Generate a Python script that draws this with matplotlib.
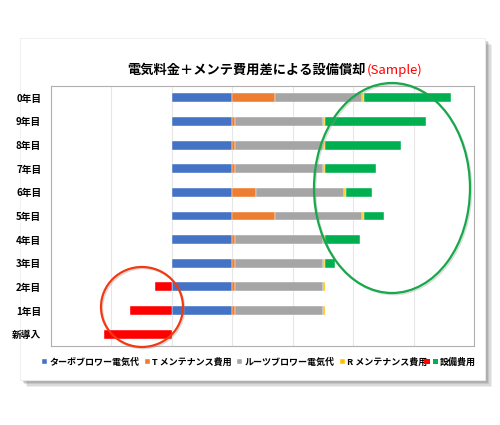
import matplotlib
matplotlib.use("Agg")
import matplotlib.pyplot as plt
from matplotlib.patches import Rectangle, Ellipse
from matplotlib.legend_handler import HandlerBase

plt.rcParams["font.family"] = ["Noto Sans CJK JP", "DejaVu Sans"]

# ─── データ (上から順) ─────────────────────────────────────────────────────────
categories = ["0年目", "9年目", "8年目", "7年目", "6年目", "5年目",
              "4年目", "3年目", "2年目", "1年目", "新導入"]
turbo_power = [1.0, 1.0, 1.0, 1.0, 1.0, 1.0, 1.0, 1.0, 1.0, 1.0, 0.0]
t_maint     = [0.70, 0.05, 0.05, 0.05, 0.40, 0.70, 0.05, 0.05, 0.05, 0.05, 0.0]
roots_power = [1.45, 1.45, 1.45, 1.45, 1.45, 1.45, 1.45, 1.45, 1.45, 1.45, 0.0]
r_maint     = [0.035, 0.035, 0.035, 0.035, 0.035, 0.035, 0.035, 0.035, 0.035, 0.035, 0.0]
equipment   = [1.43, 1.67, 1.26, 0.85, 0.42, 0.32, 0.58, 0.17, -0.28, -0.70, -1.12]

series = [
    ("ターボブロワー電気代", turbo_power, "#4472C4"),
    ("T メンテナンス費用",  t_maint,     "#ED7D31"),
    ("ルーツブロワー電気代", roots_power, "#A5A5A5"),
    ("R メンテナンス費用",  r_maint,     "#FFC000"),
]
POS, NEG = "#00B050", "#FF0000"

W, H = 500, 425


def px(x, y):
    """画像ピクセル座標 -> インチ (dpi_scale_trans 用)"""
    return x / 100, (H - y) / 100


class TwoSquares(HandlerBase):
    def create_artists(self, legend, orig_handle, xdescent, ydescent,
                       width, height, fontsize, trans):
        s = height
        r = Rectangle((-xdescent - s * 1.5, -ydescent), s, s, fc=NEG, ec="none", transform=trans)
        g = Rectangle((-xdescent, -ydescent), s, s, fc=POS, ec="none", transform=trans)
        return [r, g]


fig = plt.figure(figsize=(W / 100, H / 100), dpi=100)
fig.patch.set_facecolor("white")

# カードと影
for i, a in enumerate([0.10, 0.12, 0.15, 0.2, 0.28]):
    off = 7 - i * 1.4
    x0, y0 = px(20 + off, 380 + off)
    fig.add_artist(Rectangle((x0, y0), 4.65, 3.42, transform=fig.dpi_scale_trans,
                             fc="#555555", ec="none", alpha=a, zorder=-12))
x0, y0 = px(20, 380)
fig.add_artist(Rectangle((x0, y0), 4.65, 3.42, transform=fig.dpi_scale_trans,
                         fc="white", ec="#eeeeee", lw=0.6, zorder=-10))

ax = fig.add_axes([51 / W, (H - 346) / H, (474 - 51) / W, (346 - 86) / H])
ax.set_facecolor("white")

y = list(range(len(categories)))
left_pos = [0.0] * len(categories)
for name, vals, col in series:
    ax.barh(y, vals, left=left_pos, height=0.38, color=col, edgecolor="white",
            linewidth=0.3, label=name, zorder=3)
    left_pos = [l + v for l, v in zip(left_pos, vals)]

eq_left = [l if v >= 0 else 0 for l, v in zip(left_pos, equipment)]
eq_cols = [POS if v >= 0 else NEG for v in equipment]
eq_bars = ax.barh(y, equipment, left=eq_left, height=0.38, color=eq_cols,
                  edgecolor="white", linewidth=0.3, zorder=3)

ax.set_xlim(-2, 5)
ax.set_ylim(len(categories) - 0.5, -0.5)
ax.set_xticks(range(-1, 5))
ax.set_xticklabels([])
ax.tick_params(axis="x", length=0)
ax.tick_params(axis="y", length=0, pad=7)
ax.set_yticks(y)
ax.set_yticklabels(categories, fontsize=7, fontweight="bold")
ax.grid(axis="x", color="#e6e6e6", linewidth=0.8, zorder=0)
for sp in ax.spines.values():
    sp.set_color("#b0b0b0")
    sp.set_linewidth(0.8)

# タイトル
fig.text(366 / W, (H - 70) / H, "電気料金＋メンテ費用差による設備償却",
         ha="right", va="center", fontsize=9.5, fontweight="bold", color="black")
fig.text(367 / W, (H - 70) / H, "(Sample)",
         ha="left", va="center", fontsize=9.5, fontweight="normal", color="#FF0000")

# 凡例
handles, labels = ax.get_legend_handles_labels()
handles.append(eq_bars)
labels.append("設備費用")
fig.legend(handles, labels, loc="center", bbox_to_anchor=(259 / W, (H - 362) / H),
           ncol=5, frameon=False, prop={"weight": "bold", "size": 6.5},
           handlelength=0.55, handleheight=0.55, handletextpad=0.25,
           columnspacing=0.6, handler_map={eq_bars: TwoSquares()})

# 強調の楕円
cx, cy = px(142, 307)
fig.add_artist(Ellipse((cx + 0.015, cy - 0.015), 0.82, 0.80, transform=fig.dpi_scale_trans,
                       fill=False, ec="#999999", lw=1.2, alpha=0.35, zorder=9))
fig.add_artist(Ellipse((cx, cy), 0.82, 0.80, transform=fig.dpi_scale_trans,
                       fill=False, ec="#F23A12", lw=1.6, zorder=10))
cx, cy = px(392, 188)
fig.add_artist(Ellipse((cx + 0.015, cy - 0.015), 1.56, 2.10, transform=fig.dpi_scale_trans,
                       fill=False, ec="#999999", lw=1.2, alpha=0.35, zorder=9))
fig.add_artist(Ellipse((cx, cy), 1.56, 2.10, transform=fig.dpi_scale_trans,
                       fill=False, ec="#16A84A", lw=1.6, zorder=10))

fig.savefig("out.png", dpi=100, facecolor="white")
